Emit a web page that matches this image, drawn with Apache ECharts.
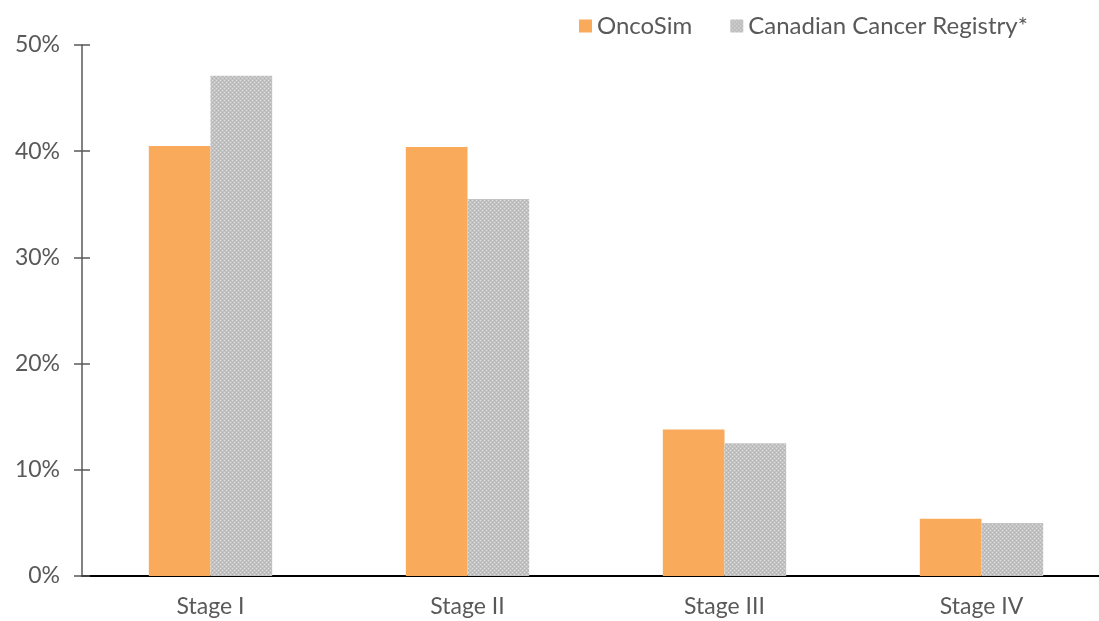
<!DOCTYPE html>
<html>
<head>
<meta charset="utf-8">
<script src="https://cdn.jsdelivr.net/npm/echarts@6/dist/echarts.min.js"></script>
<style>
  html, body { margin: 0; padding: 0; background: #fff; }
  #chart { width: 1099px; height: 621px; }
</style>
</head>
<body>
<div id="chart"></div>
<script>
// Stage distribution at diagnosis
const stages = ['Stage I', 'Stage II', 'Stage III', 'Stage IV'];
const oncoSim = [40.5, 40.4, 13.8, 5.4];
const registry = [47.1, 35.5, 12.5, 5.0];
const seriesNames = ['OncoSim', 'Canadian Cancer Registry*'];

// Dotted grey fill for the registry bars
function dotPattern() {
  const c = document.createElement('canvas');
  c.width = 4; c.height = 4;
  const g = c.getContext('2d');
  g.fillStyle = '#c2c2c2';
  g.fillRect(0, 0, 4, 4);
  g.fillStyle = '#dedede';
  g.fillRect(0, 0, 1, 1);
  g.fillRect(2, 2, 1, 1);
  g.fillStyle = '#b4b4b4';
  g.fillRect(2, 0, 1, 1);
  g.fillRect(0, 2, 1, 1);
  return c;
}

const font = 'Lato, "Noto Sans", sans-serif';
const chart = echarts.init(document.getElementById('chart'));
chart.setOption({
  animation: false,
  textStyle: { fontFamily: font },
  legend: {
    top: 9,
    left: 574,
    itemWidth: 13,
    itemHeight: 13,
    itemGap: 38,
    icon: 'rect',
    textStyle: { fontSize: 24, color: '#595959', fontFamily: font },
    data: seriesNames
  },
  grid: { left: 82, width: 1028, top: 45, bottom: 45, outerBoundsMode: 'none', containLabel: false },
  xAxis: {
    type: 'category',
    data: stages,
    axisLine: { lineStyle: { color: '#000', width: 2 } },
    axisTick: { show: false },
    axisLabel: { fontSize: 23, color: '#595959', margin: 19, fontFamily: font }
  },
  yAxis: [{
    type: 'value',
    min: 0, max: 50, interval: 10,
    axisLine: { show: true, lineStyle: { color: '#595959', width: 1.5 } },
    axisTick: { show: true, length: 8, lineStyle: { color: '#595959', width: 1.5 } },
    splitLine: { show: false },
    axisLabel: { formatter: '{value}%', fontSize: 23, color: '#595959', margin: 22, fontFamily: font }
  }, {
    type: 'value',
    position: 'left',
    min: 0, max: 50, interval: 10,
    axisLine: { show: false },
    axisTick: { show: true, inside: true, length: 8, lineStyle: { color: '#595959', width: 1.5 } },
    splitLine: { show: false },
    axisLabel: { show: false }
  }],
  series: [{
    name: seriesNames[0],
    type: 'bar',
    data: oncoSim,
    barGap: '0%',
    barCategoryGap: '52%',
    itemStyle: { color: '#F9AA5B' }
  }, {
    name: seriesNames[1],
    type: 'bar',
    data: registry,
    itemStyle: { color: { image: dotPattern(), repeat: 'repeat' } }
  }]
});
</script>
</body>
</html>
